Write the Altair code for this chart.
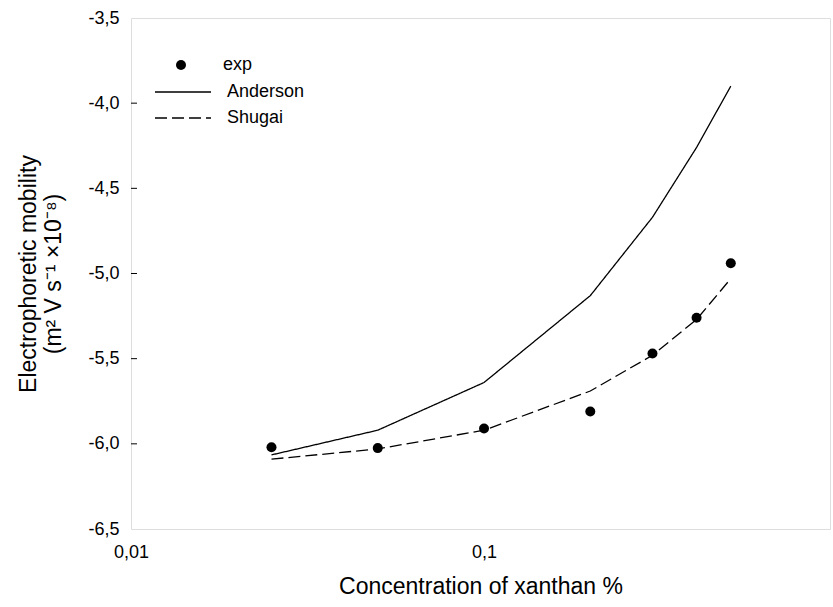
import altair as alt
import pandas as pd

conc = [0.025, 0.05, 0.1, 0.2, 0.3, 0.4, 0.5]
exp_vals = [-6.02, -6.025, -5.91, -5.81, -5.47, -5.26, -4.94]
anderson = [-6.065, -5.92, -5.64, -5.13, -4.67, -4.26, -3.90]
shugai = [-6.09, -6.03, -5.92, -5.69, -5.48, -5.27, -5.03]
y_ticks = [-6.5, -6.0, -5.5, -5.0, -4.5, -4.0, -3.5]
x_ticks = [0.01, 0.1]

FONT = "Liberation Sans"

pts = pd.DataFrame({"conc": conc, "mob": exp_vals, "series": "exp"})
lines = pd.concat([
    pd.DataFrame({"conc": conc, "mob": anderson, "series": "Anderson"}),
    pd.DataFrame({"conc": conc, "mob": shugai, "series": "Shugai"}),
])
inner = pd.DataFrame({"v": y_ticks[1:-1]})

xs = alt.Scale(type="log", domain=[0.01, 0.955], nice=False)
ys = alt.Scale(domain=[-6.5, -3.5], nice=False, zero=False)

x_axis = alt.Axis(values=x_ticks, labelExpr="replace(toString(datum.value), '.', ',')",
                  title="Concentration of xanthan %", grid=False, ticks=False, domain=False,
                  labelFontSize=18, titleFontSize=23, labelPadding=14, titlePadding=14,
                  labelFont=FONT, titleFont=FONT, labelColor="black", titleColor="black",
                  titleFontWeight="normal", labelFlush=False)
y_axis = alt.Axis(values=y_ticks,
                  labelExpr="replace(replace(format(datum.value, '.1f'), '.', ','), '\u2212', '-')",
                  title=["Electrophoretic mobility", "(m² V s⁻¹ ×10⁻⁸)"], grid=False, ticks=False,
                  domain=False, labelFontSize=18, titleFontSize=23, labelPadding=12, titlePadding=22,
                  labelFont=FONT, titleFont=FONT, labelColor="black", titleColor="black",
                  titleFontWeight="normal", labelFlush=False)

line_layer = alt.Chart(lines).mark_line(color="black", strokeWidth=1.3).encode(
    x=alt.X("conc:Q", scale=xs, axis=x_axis),
    y=alt.Y("mob:Q", scale=ys, axis=y_axis),
    strokeDash=alt.StrokeDash("series:N",
        scale=alt.Scale(domain=["Anderson", "Shugai"], range=[[1, 0], [12, 5]]),
        legend=alt.Legend(title=None, orient="none", legendX=37, legendY=59,
                          symbolType="M-2,0L2,0", symbolSize=784, symbolStrokeWidth=1.3,
                          symbolStrokeColor="black", symbolFillColor="transparent",
                          labelFontSize=18, labelFont=FONT, labelOffset=29, padding=0,
                          rowPadding=2, labelColor="black")),
    detail="series:N",
)

point_layer = alt.Chart(pts).mark_point(filled=True, color="black", size=100, opacity=1).encode(
    x=alt.X("conc:Q", scale=xs),
    y=alt.Y("mob:Q", scale=ys),
    shape=alt.Shape("series:N", scale=alt.Scale(domain=["exp"], range=["circle"]),
        legend=alt.Legend(title=None, orient="none", legendX=41, legendY=38,
                          symbolSize=100, symbolFillColor="black", symbolStrokeColor="black",
                          labelFontSize=18, labelFont=FONT, labelOffset=33, padding=0,
                          labelColor="black")),
)

tick_layer = alt.Chart(inner).mark_rule(color="black", strokeWidth=1).encode(
    y=alt.Y("v:Q", scale=ys),
    x=alt.value(0), x2=alt.value(6),
)

chart = alt.layer(line_layer, point_layer, tick_layer).properties(
    width=699, height=511,
    autosize=alt.AutoSizeParams(type="none"),
    padding={"left": 131, "top": 18, "right": 3, "bottom": 78},
).configure_view(stroke="black", strokeWidth=1.2).configure(background="white")

chart.save("out.html", embed_options={"renderer": "svg", "actions": False})
